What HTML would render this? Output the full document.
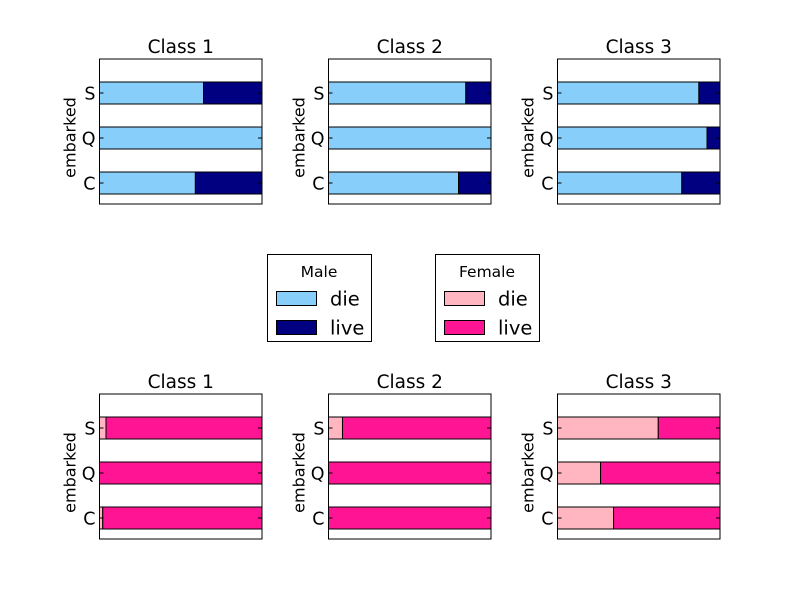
<!DOCTYPE html>
<html><head><meta charset="utf-8"><style>
html,body{margin:0;padding:0;background:#fff;}
svg{display:block;font-family:"DejaVu Sans","Liberation Sans",sans-serif;}
</style></head><body>
<svg id="chart" width="800" height="600" viewBox="0 0 800 600"></svg>
<script>
const categories = ['S','Q','C'];
const classTitles = ['Class 1','Class 2','Class 3'];
// fraction who died per class, per category [S,Q,C]
const maleDie = [[0.64,1.0,0.59],[0.845,1.0,0.80],[0.87,0.92,0.765]];
const femaleDie = [[0.04,0.0,0.02],[0.086,0.0,0.0],[0.62,0.265,0.345]];
const rowsSeries = [maleDie, femaleDie];
const rowColors = [['#87cefa','#000080'],['#ffb6c1','#ff1493']];
const rowNames = ['male','female'];

const NS='http://www.w3.org/2000/svg';
const svg=document.getElementById('chart');
function mk(tag,attrs,parent){const e=document.createElementNS(NS,tag);for(const k in attrs)e.setAttribute(k,attrs[k]);(parent||svg).appendChild(e);return e;}

const axLefts=[99.5,328.5,557.5], axW=162.5, axTops=[59,394], axH=145;
const catCenters=[93,138,183], barH=22;
function xScale(v,left){return left+v*axW;}
function yScale(i,top){return top+(catCenters[i]-59);}

rowsSeries.forEach((series,r)=>{
  series.forEach((vals,c)=>{
    const L=axLefts[c], T=axTops[r];
    const g=mk('g',{});
    
    
    const t=mk('text',{x:L+axW/2,y:T-6,'text-anchor':'middle','font-size':18.5},g);
    t.textContent=classTitles[c];
    
    
    vals.forEach((v,i)=>{
      const cy=yScale(i,T);
      const x0=xScale(0,L), x1=xScale(v,L), x2=xScale(1,L);
      const b1=mk('rect',{x:x0,y:cy-barH/2,width:x1-x0,height:barH,fill:rowColors[r][0],stroke:'#000','stroke-width':1},g);
      
      
      const b2=mk('rect',{x:x1,y:cy-barH/2,width:x2-x1,height:barH,fill:rowColors[r][1],stroke:'#000','stroke-width':1},g);
      
      
      mk('line',{x1:L,x2:L+4,y1:cy,y2:cy,stroke:'#000'},g);
      mk('line',{x1:L+axW-4,x2:L+axW,y1:cy,y2:cy,stroke:'#000'},g);
      const tl=mk('text',{x:L-4,y:cy+6.5,'text-anchor':'end','font-size':17.5},g);
      tl.textContent=categories[i];
      
      
    });
    const fr=mk('rect',{x:L,y:T,width:axW,height:axH,fill:'none',stroke:'#000','stroke-width':1},g);
    
    
    const yl=mk('text',{x:0,y:0,'text-anchor':'middle','font-size':16,transform:'translate('+(L-24)+','+(T+axH/2+6)+') rotate(-90)'},g);
    yl.textContent='embarked';
    
    
  });
});

const legends=[{x:267,title:'Male',cols:rowColors[0]},{x:435,title:'Female',cols:rowColors[1]}];
const legendLabels=['die','live'];
legends.forEach(lg=>{
  const g=mk('g',{});
  
  
  mk('rect',{x:lg.x+0.5,y:254.5,width:104,height:87,fill:'#fff',stroke:'#000'},g);
  const tt=mk('text',{x:lg.x+52,y:277,'text-anchor':'middle','font-size':15.5},g);
  tt.textContent=lg.title;
  legendLabels.forEach((lab,i)=>{
    const y=291+i*29;
    const p=mk('rect',{x:lg.x+9.5,y:y+0.5,width:40,height:14,fill:lg.cols[i],stroke:'#000'},g);
    
    
    const tx=mk('text',{x:lg.x+63,y:y+14.5,'font-size':19.5},g);
    tx.textContent=lab;
  });
});
</script>
</body></html>
